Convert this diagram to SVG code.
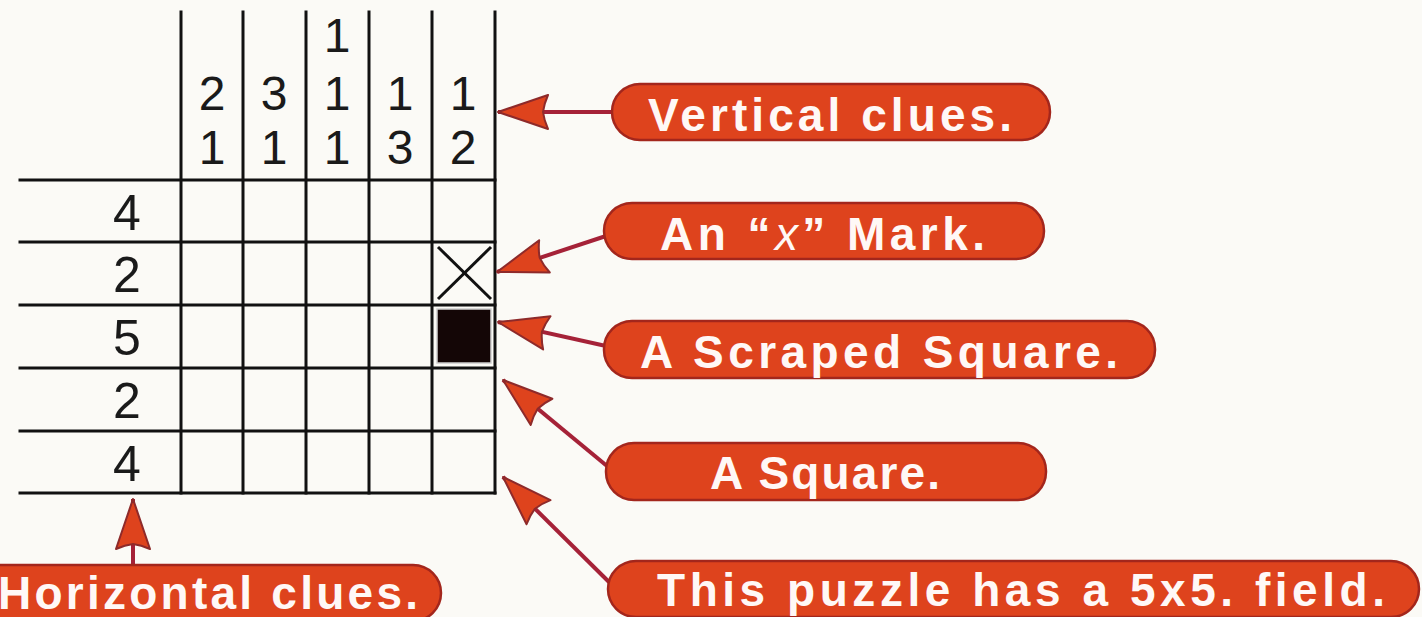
<svg xmlns="http://www.w3.org/2000/svg" width="1422" height="617" viewBox="0 0 1422 617">
<defs>
<style>
.grid{stroke:#111;stroke-width:3;fill:none;stroke-linecap:square}
.clue{font-family:"Liberation Sans",Arial,sans-serif;font-size:48px;fill:#1a1a1a;text-anchor:middle}
.rclue{font-family:"Liberation Sans",Arial,sans-serif;font-size:50px;fill:#1a1a1a;text-anchor:middle}
.pill{fill:#de431d;stroke:#a3261c;stroke-width:2.5}
.lbl{font-family:"Liberation Sans",Arial,sans-serif;font-weight:bold;font-size:46px;fill:#fff8f6}
.conn{stroke:#a52238;stroke-width:4;fill:none}
</style>
<marker id="ah" markerUnits="userSpaceOnUse" viewBox="-54 -20 58 40" refX="0" refY="0" markerWidth="58" markerHeight="40" orient="auto">
<path d="M0,0 L-50,-17 Q-46,-8 -45,0 Q-46,8 -50,17 Z" fill="#de431d" stroke="#8e2a2a" stroke-width="2" stroke-linejoin="round"/>
</marker>
</defs>
<rect width="1422" height="617" fill="#fbfaf6"/>

<g id="puzzle-grid">
<line class="grid" x1="181" y1="12" x2="181" y2="493"/>
<line class="grid" x1="243" y1="12" x2="243" y2="493"/>
<line class="grid" x1="306" y1="12" x2="306" y2="493"/>
<line class="grid" x1="369" y1="12" x2="369" y2="493"/>
<line class="grid" x1="432" y1="12" x2="432" y2="493"/>
<line class="grid" x1="495" y1="12" x2="495" y2="493"/>
<line class="grid" x1="20" y1="180" x2="495" y2="180"/>
<line class="grid" x1="20" y1="242" x2="495" y2="242"/>
<line class="grid" x1="20" y1="305" x2="495" y2="305"/>
<line class="grid" x1="20" y1="368" x2="495" y2="368"/>
<line class="grid" x1="20" y1="431" x2="495" y2="431"/>
<line class="grid" x1="20" y1="493" x2="495" y2="493"/>
<line x1="438" y1="247" x2="491" y2="299" stroke="#111" stroke-width="3"/>
<line x1="491" y1="247" x2="438" y2="299" stroke="#111" stroke-width="3"/>
<rect x="437" y="309" width="54" height="54" fill="#140606" stroke="#cfcfcf" stroke-width="1.5"/>
</g>

<g id="column-clues">
<text class="clue" x="337" y="52">1</text>
<text class="clue" x="212" y="110">2</text>
<text class="clue" x="274" y="110">3</text>
<text class="clue" x="337" y="110">1</text>
<text class="clue" x="400" y="110">1</text>
<text class="clue" x="463" y="110">1</text>
<text class="clue" x="212" y="164">1</text>
<text class="clue" x="274" y="164">1</text>
<text class="clue" x="337" y="164">1</text>
<text class="clue" x="400" y="164">3</text>
<text class="clue" x="463" y="164">2</text>
</g>

<g id="row-clues">
<text class="rclue" x="127" y="230">4</text>
<text class="rclue" x="127" y="292">2</text>
<text class="rclue" x="127" y="355">5</text>
<text class="rclue" x="127" y="418">2</text>
<text class="rclue" x="127" y="481">4</text>
</g>

<g id="connectors">
<line class="conn" x1="614" y1="112" x2="498" y2="112" marker-end="url(#ah)"/>
<line class="conn" x1="606" y1="236" x2="497" y2="272" marker-end="url(#ah)"/>
<line class="conn" x1="606" y1="346" x2="498" y2="322" marker-end="url(#ah)"/>
<line class="conn" x1="607" y1="466" x2="503" y2="380" marker-end="url(#ah)"/>
<line class="conn" x1="609" y1="582" x2="503" y2="477" marker-end="url(#ah)"/>
<line class="conn" x1="133" y1="567" x2="133" y2="499" marker-end="url(#ah)"/>
</g>

<g id="label-vertical">
<rect class="pill" x="612" y="84" width="438" height="56" rx="28"/>
<text class="lbl" x="648" y="131" textLength="364" lengthAdjust="spacing">Vertical clues.</text>
</g>
<g id="label-x">
<rect class="pill" x="604" y="203" width="440" height="56" rx="28"/>
<text class="lbl" x="660" y="250" textLength="325" lengthAdjust="spacing">An “<tspan font-style="italic" font-weight="normal">x</tspan>” Mark.</text>
</g>
<g id="label-scraped">
<rect class="pill" x="604" y="321" width="551" height="57" rx="28"/>
<text class="lbl" x="640" y="368" textLength="478" lengthAdjust="spacing">A Scraped Square.</text>
</g>
<g id="label-square">
<rect class="pill" x="606" y="443" width="440" height="57" rx="28"/>
<text class="lbl" x="710" y="489" textLength="230" lengthAdjust="spacing">A Square.</text>
</g>
<g id="label-field">
<rect class="pill" x="608" y="561" width="811" height="56" rx="28"/>
<text class="lbl" x="657" y="606" textLength="728" lengthAdjust="spacing">This puzzle has a 5x5. field.</text>
</g>
<g id="label-horizontal">
<rect class="pill" x="-40" y="565" width="481" height="56" rx="28"/>
<text class="lbl" x="-2" y="609" textLength="420" lengthAdjust="spacing">Horizontal clues.</text>
</g>
</svg>
